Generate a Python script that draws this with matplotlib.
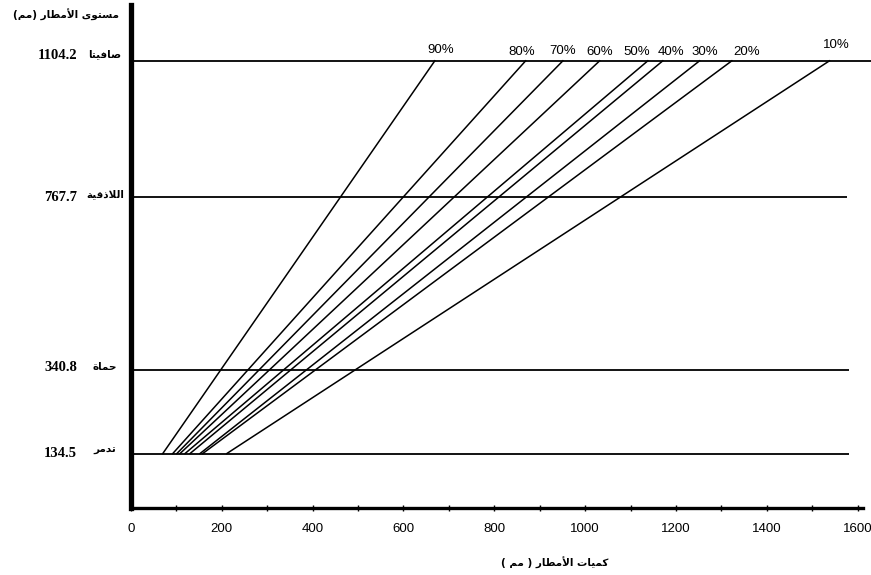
import matplotlib
matplotlib.use("Agg")
import matplotlib.pyplot as plt
import matplotlib.transforms as mtransforms

# ---------------- data ----------------
probabilities = ["90%", "80%", "70%", "60%", "50%", "40%", "30%", "20%", "10%"]
# rainfall amount (mm) at the lowest level (تدمر) and at the highest level (صافيتا)
rain_low = [70, 92, 101, 108, 119, 130, 152, 158, 211]
rain_high = [669, 869, 951, 1032, 1138, 1171, 1252, 1323, 1538]
levels = [134.5, 340.8, 767.7, 1104.2]
level_labels = ["134.5", "340.8", "767.7", "1104.2"]
stations = ["تدمر", "حماة", "اللاذقية", "صافيتا"]
x_ticks = [0, 200, 400, 600, 800, 1000, 1200, 1400, 1600]
y_title = "مستوى الأمطار (مم)"
x_title = "كميات الأمطار ( مم )"

# ---------------- simple Arabic shaping (presentation forms) ----------------
FORMS = {  # isolated, final, initial, medial
    'ا': (0xFE8D, 0xFE8E, None, None),
    'أ': (0xFE83, 0xFE84, None, None),
    'د': (0xFEA9, 0xFEAA, None, None),
    'ذ': (0xFEAB, 0xFEAC, None, None),
    'ر': (0xFEAD, 0xFEAE, None, None),
    'و': (0xFEED, 0xFEEE, None, None),
    'ى': (0xFEEF, 0xFEF0, None, None),
    'ة': (0xFE93, 0xFE94, None, None),
    'ت': (0xFE95, 0xFE96, 0xFE97, 0xFE98),
    'ح': (0xFEA1, 0xFEA2, 0xFEA3, 0xFEA4),
    'س': (0xFEB1, 0xFEB2, 0xFEB3, 0xFEB4),
    'ص': (0xFEB9, 0xFEBA, 0xFEBB, 0xFEBC),
    'ط': (0xFEC1, 0xFEC2, 0xFEC3, 0xFEC4),
    'ف': (0xFED1, 0xFED2, 0xFED3, 0xFED4),
    'ق': (0xFED5, 0xFED6, 0xFED7, 0xFED8),
    'ك': (0xFED9, 0xFEDA, 0xFEDB, 0xFEDC),
    'ل': (0xFEDD, 0xFEDE, 0xFEDF, 0xFEE0),
    'م': (0xFEE1, 0xFEE2, 0xFEE3, 0xFEE4),
    'ي': (0xFEF1, 0xFEF2, 0xFEF3, 0xFEF4),
}
LAM_ALEF = {'ا': (0xFEFB, 0xFEFC), 'أ': (0xFEF7, 0xFEF8)}


def shape(text):
    out = []
    i = 0
    n = len(text)

    def joins_forward(c):
        return c in FORMS and FORMS[c][2] is not None

    while i < n:
        c = text[i]
        prev = text[i - 1] if i > 0 else ''
        prev_j = joins_forward(prev)
        if c == 'ل' and i + 1 < n and text[i + 1] in LAM_ALEF:
            iso, fin = LAM_ALEF[text[i + 1]]
            out.append(chr(fin if prev_j else iso))
            i += 2
            continue
        if c in FORMS:
            iso, fin, ini, med = FORMS[c]
            nxt = text[i + 1] if i + 1 < n else ''
            next_j = nxt in FORMS and ini is not None
            if prev_j and next_j:
                out.append(chr(med))
            elif prev_j:
                out.append(chr(fin))
            elif next_j:
                out.append(chr(ini))
            else:
                out.append(chr(iso))
        else:
            out.append(c)
        i += 1
    vis = ''.join(reversed(out))
    return vis.translate(str.maketrans('()', ')('))


# ---------------- figure ----------------
W, H = 871, 575
fig = plt.figure(figsize=(W / 100, H / 100), dpi=100)
ax = fig.add_axes([131 / W, 67 / H, (869 - 131) / W, (570 - 67) / H])
ax.set_xlim(0, 1625)
ax.set_ylim(0, 1242)

for s in ["top", "right"]:
    ax.spines[s].set_visible(False)
ax.spines["left"].set_linewidth(3.8)
ax.spines["bottom"].set_linewidth(2.4)
ax.spines["bottom"].set_bounds(0, 1612)

# level lines
line_ends = [1582, 1582, 1576, 1630]
for lv, xe in zip(levels, line_ends):
    ax.plot([0, xe], [lv, lv], color="black", lw=1.3, clip_on=False, solid_capstyle="butt")

# probability lines
for lo, hi in zip(rain_low, rain_high):
    ax.plot([lo, hi], [levels[0], levels[-1]], color="black", lw=1.1)

# probability labels
label_offsets = [(4, 8), (-3, 6), (0, 7), (0, 6.5), (-8, 6.5), (6, 6.5), (4, 6.5), (11, 6.5), (5, 11.5)]
for p, hi, (dx, dy) in zip(probabilities, rain_high, label_offsets):
    ax.annotate(p, xy=(hi, levels[-1]), xytext=(dx, dy), textcoords="offset points",
                ha="center", va="center", fontsize=9.5, family="Liberation Sans")

# x axis
ax.set_xticks(x_ticks)
ax.set_xticklabels([str(v) for v in x_ticks], family="Liberation Sans", fontsize=9.5)
ax.set_xticks(range(0, 1601, 100), minor=True)
ax.tick_params(axis="x", which="both", direction="inout", length=4, width=1, pad=9)
ax.set_yticks([])

# y level labels
trans = mtransforms.blended_transform_factory(fig.transFigure, ax.transData)
num_dy = [0, 6, 0, 12]
for lv, lab, st, dyy in zip(levels, level_labels, stations, num_dy):
    ax.text(77 / W, lv + dyy, lab, transform=trans, ha="right", va="center",
            family="Liberation Serif", fontweight="bold", fontsize=10.5, clip_on=False)
    ax.text(105 / W, lv + 8 + (8 if lv > 1000 else 0), shape(st), transform=trans, ha="center",
            va="center", family="DejaVu Sans", fontweight="bold", fontsize=7.5, clip_on=False)

fig.text(66 / W, 1 - 15 / H, shape(y_title), ha="center", va="center",
         family="DejaVu Sans", fontweight="bold", fontsize=7.5)
fig.text(555 / W, 1 - 563 / H, shape(x_title), ha="center", va="center",
         family="DejaVu Sans", fontweight="bold", fontsize=7.5)

fig.savefig("out.png", dpi=100)
